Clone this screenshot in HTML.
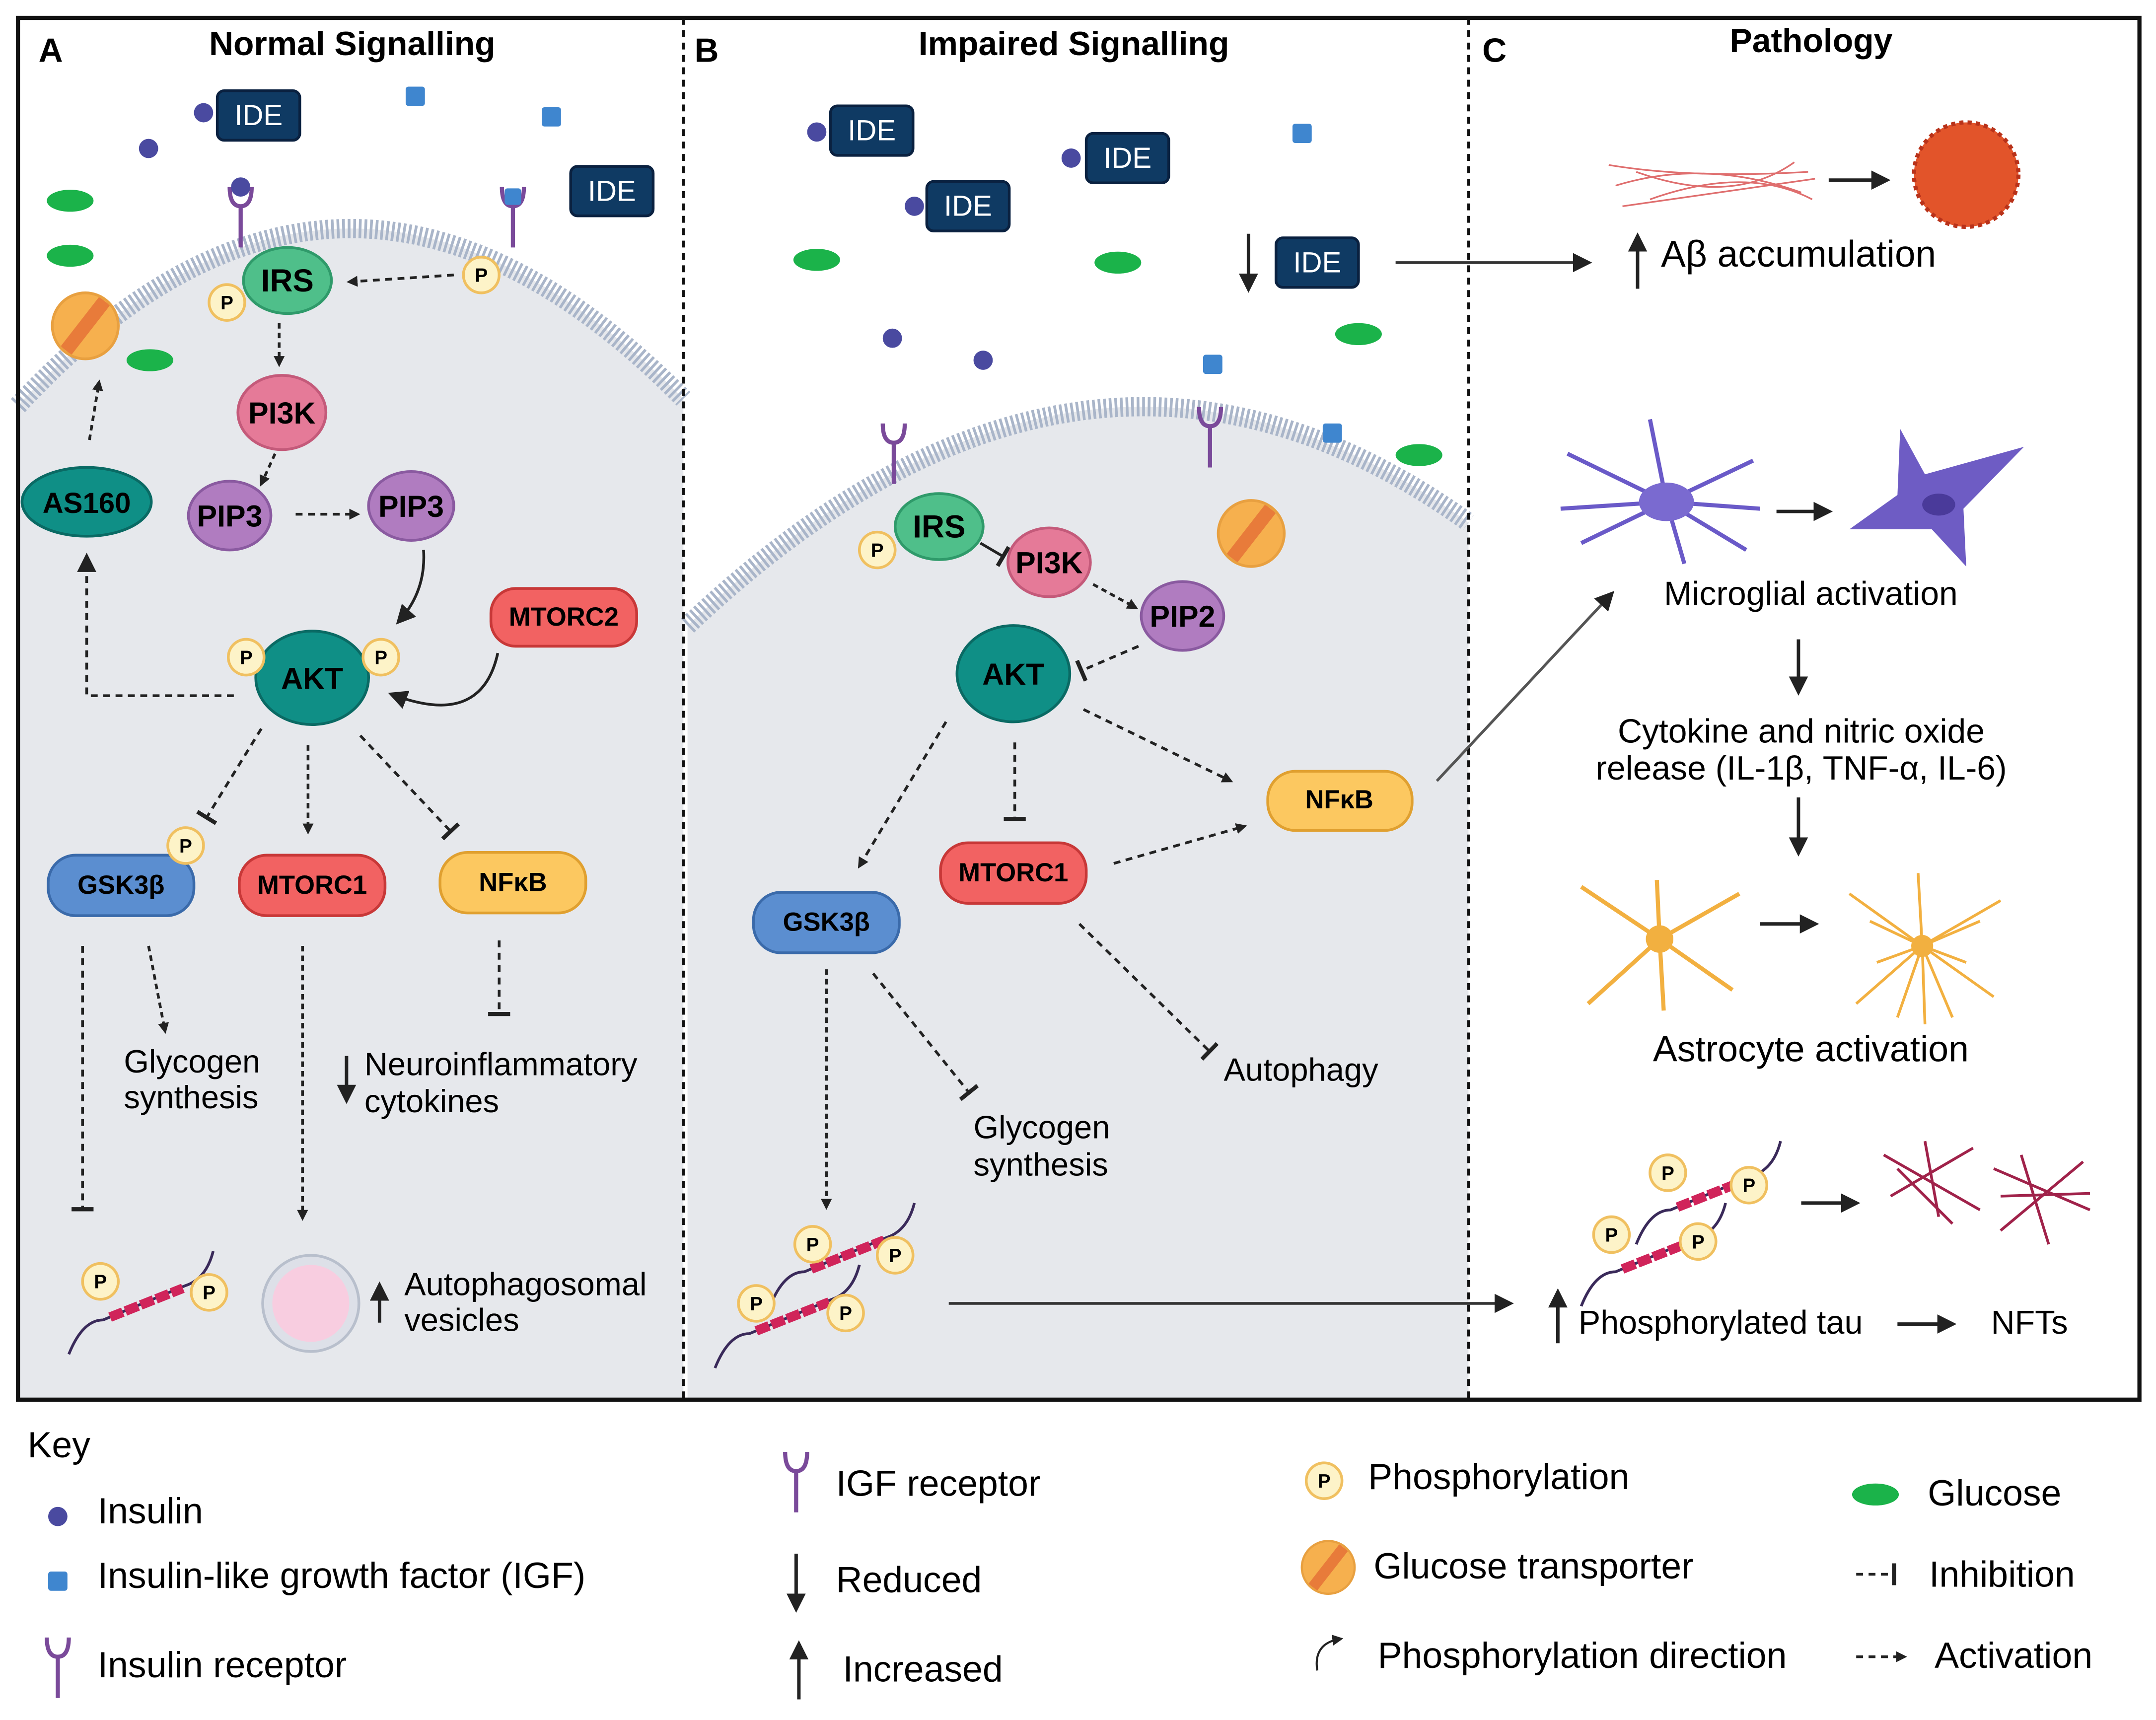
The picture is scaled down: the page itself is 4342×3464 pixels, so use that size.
<!DOCTYPE html>
<html><head><meta charset="utf-8"><style>
html,body{margin:0;padding:0;background:#fff;}
svg{display:block;}
text{font-family:"Liberation Sans",sans-serif;}
</style></head><body>
<svg width="4342" height="3464" viewBox="0 0 1568 1251" xmlns="http://www.w3.org/2000/svg">
<defs>
<marker id="ah" markerWidth="8" markerHeight="8" refX="6" refY="4" orient="auto" markerUnits="userSpaceOnUse"><path d="M0,0 L8,4 L0,8 z" fill="#222"/></marker>
<marker id="ahb" markerWidth="14" markerHeight="14" refX="11" refY="7" orient="auto" markerUnits="userSpaceOnUse"><path d="M0,0 L14,7 L0,14 z" fill="#222"/></marker>
<marker id="tb" markerWidth="4" markerHeight="16" refX="2" refY="8" orient="auto" markerUnits="userSpaceOnUse"><rect x="0" y="0" width="3" height="16" fill="#222"/></marker>
<g id="P"><circle r="13" fill="#fdf3c8" stroke="#f0c060" stroke-width="2"/><text y="5" text-anchor="middle" font-size="14" font-weight="bold">P</text></g>
<g id="IDE"><rect x="-30" y="-18" width="60" height="36" rx="5" fill="#0f3a63" stroke="#0a2140" stroke-width="2"/><text y="7" text-anchor="middle" font-size="21" fill="#fff">IDE</text></g>
<g id="glu"><ellipse rx="17" ry="8" fill="#1bb34a"/></g>
<g id="ins"><circle r="7" fill="#4a4aa0"/></g>
<g id="igf"><rect x="-7" y="-7" width="14" height="14" rx="2" fill="#3f86cf"/></g>
<g id="rec"><path d="M-8,-14 Q-8,0 0,0 Q8,0 8,-14 M0,0 L0,30" fill="none" stroke="#7a4a9a" stroke-width="3"/></g>
<g id="glut"><circle r="24" fill="#f6b04e"/><path d="M-14,18 L14,-18" stroke="#e87b3a" stroke-width="10"/><circle r="24" fill="none" stroke="#e8a040" stroke-width="2"/></g>
<g id="tau"><path d="M-55,45 Q-45,20 -30,20 L30,-5 Q45,-10 50,-30" fill="none" stroke="#3a2a5a" stroke-width="2"/><path d="M-25,18 L28,-3" stroke="#d0245a" stroke-width="7" stroke-dasharray="10,2"/></g>
</defs>
<rect width="1568" height="1251" fill="#fff"/>
<path d="M13,295 Q250,40 497,290 L497,1018 L13,1018 z" fill="#e6e8ec"/>
<path d="M13,295 Q250,40 497,290" fill="none" stroke="#a9b5c9" stroke-width="14" stroke-dasharray="2,2"/>
<path d="M500,455 Q790,180 1068,380 L1068,1018 L500,1018 z" fill="#e6e8ec"/>
<path d="M500,455 Q790,180 1068,380" fill="none" stroke="#a9b5c9" stroke-width="14" stroke-dasharray="2,2"/>
<rect x="13" y="13" width="1543" height="1005" fill="none" stroke="#111" stroke-width="3"/>
<line x1="497" y1="13" x2="497" y2="1018" stroke="#111" stroke-width="2" stroke-dasharray="5,4"/>
<line x1="1068" y1="13" x2="1068" y2="1018" stroke="#111" stroke-width="2" stroke-dasharray="5,4"/>
<g font-weight="bold" font-size="24.5">
<text x="28" y="45">A</text><text x="152" y="40">Normal Signalling</text>
<text x="505" y="45">B</text><text x="668" y="40">Impaired Signalling</text>
<text x="1078" y="45">C</text><text x="1258" y="38">Pathology</text>
</g>
<use href="#ins" x="148" y="82"/><use href="#ins" x="108" y="108"/><use href="#IDE" x="188" y="84"/>
<use href="#igf" x="302" y="70"/><use href="#igf" x="401" y="85"/><use href="#IDE" x="445" y="139"/>
<use href="#glu" x="51" y="146"/><use href="#glu" x="51" y="186"/><use href="#glu" x="109" y="262"/>
<use href="#rec" x="175" y="150"/><circle cx="175" cy="136" r="7" fill="#4a4aa0"/>
<use href="#rec" x="373" y="150"/><rect x="367" y="137" width="12" height="12" rx="2" fill="#3f86cf"/>
<use href="#glut" x="62" y="237"/>
<ellipse cx="209" cy="204" rx="32" ry="24" fill="#4fbf8a" stroke="#2f9a6a" stroke-width="2"/><text x="209" y="212" text-anchor="middle" font-size="23" font-weight="bold">IRS</text>
<use href="#P" x="165" y="220"/><use href="#P" x="350" y="200"/>
<line x1="330" y1="200" x2="254" y2="205" stroke="#222" stroke-width="2" stroke-dasharray="5,4" marker-end="url(#ah)"/>
<line x1="203" y1="235" x2="203" y2="265" stroke="#222" stroke-width="2" stroke-dasharray="4,3" marker-end="url(#ah)"/>
<ellipse cx="205" cy="300" rx="32" ry="27" fill="#e57a98" stroke="#c45a7a" stroke-width="2"/><text x="205" y="308" text-anchor="middle" font-size="22" font-weight="bold">PI3K</text>
<line x1="200" y1="330" x2="190" y2="352" stroke="#222" stroke-width="2" stroke-dasharray="4,3" marker-end="url(#ah)"/>
<ellipse cx="167" cy="375" rx="30" ry="25" fill="#b07cc0" stroke="#8a5aa0" stroke-width="2"/><text x="167" y="383" text-anchor="middle" font-size="22" font-weight="bold">PIP3</text>
<line x1="215" y1="374" x2="260" y2="374" stroke="#222" stroke-width="2" stroke-dasharray="5,4" marker-end="url(#ah)"/>
<ellipse cx="299" cy="368" rx="31" ry="25" fill="#b07cc0" stroke="#8a5aa0" stroke-width="2"/><text x="299" y="376" text-anchor="middle" font-size="22" font-weight="bold">PIP3</text>
<path d="M308,400 Q310,430 290,452" fill="none" stroke="#222" stroke-width="2" marker-end="url(#ahb)"/>
<ellipse cx="63" cy="365" rx="47" ry="25" fill="#0f8f86" stroke="#0a6a64" stroke-width="2"/><text x="63" y="373" text-anchor="middle" font-size="21" font-weight="bold">AS160</text>
<line x1="65" y1="320" x2="72" y2="278" stroke="#222" stroke-width="2" stroke-dasharray="4,3" marker-end="url(#ah)"/>
<ellipse cx="227" cy="493" rx="41" ry="34" fill="#0f8f86" stroke="#0a6a64" stroke-width="2"/><text x="227" y="501" text-anchor="middle" font-size="22" font-weight="bold">AKT</text>
<use href="#P" x="179" y="478"/><use href="#P" x="277" y="478"/>
<rect x="357" y="428" width="106" height="42" rx="18" fill="#f26262" stroke="#c83838" stroke-width="2"/><text x="410" y="455" text-anchor="middle" font-size="19" font-weight="bold">MTORC2</text>
<path d="M362,475 Q350,530 285,505" fill="none" stroke="#222" stroke-width="2" marker-end="url(#ahb)"/>
<path d="M170,506 L63,506 L63,405" fill="none" stroke="#222" stroke-width="2" stroke-dasharray="5,4" marker-end="url(#ahb)"/>
<line x1="190" y1="530" x2="150" y2="595" stroke="#222" stroke-width="2" stroke-dasharray="5,4" marker-end="url(#tb)"/>
<line x1="224" y1="542" x2="224" y2="605" stroke="#222" stroke-width="2" stroke-dasharray="4,3" marker-end="url(#ah)"/>
<line x1="262" y1="535" x2="328" y2="605" stroke="#222" stroke-width="2" stroke-dasharray="5,4" marker-end="url(#tb)"/>
<rect x="35" y="622" width="106" height="44" rx="20" fill="#5b8ed0" stroke="#3a6aaa" stroke-width="2"/><text x="88" y="650" text-anchor="middle" font-size="19" font-weight="bold">GSK3β</text>
<use href="#P" x="135" y="615"/>
<rect x="174" y="622" width="106" height="44" rx="20" fill="#f26262" stroke="#c83838" stroke-width="2"/><text x="227" y="650" text-anchor="middle" font-size="19" font-weight="bold">MTORC1</text>
<rect x="320" y="620" width="106" height="44" rx="20" fill="#fcc860" stroke="#e0a030" stroke-width="2"/><text x="373" y="648" text-anchor="middle" font-size="19" font-weight="bold">NFκB</text>
<line x1="60" y1="688" x2="60" y2="880" stroke="#222" stroke-width="2" stroke-dasharray="5,4" marker-end="url(#tb)"/>
<line x1="108" y1="688" x2="120" y2="750" stroke="#222" stroke-width="2" stroke-dasharray="4,3" marker-end="url(#ah)"/>
<line x1="220" y1="688" x2="220" y2="886" stroke="#222" stroke-width="2" stroke-dasharray="4,3" marker-end="url(#ah)"/>
<line x1="363" y1="684" x2="363" y2="738" stroke="#222" stroke-width="2" stroke-dasharray="5,4" marker-end="url(#tb)"/>
<g font-size="23.5"><text x="90" y="780">Glycogen</text><text x="90" y="806">synthesis</text>
<text x="265" y="782">Neuroinflammatory</text><text x="265" y="809">cytokines</text>
<text x="294" y="942">Autophagosomal</text><text x="294" y="968">vesicles</text></g>
<path d="M252,768 L252,800" stroke="#222" stroke-width="2.5" marker-end="url(#ahb)"/>
<path d="M276,962 L276,935" stroke="#222" stroke-width="2.5" marker-end="url(#ahb)"/>
<circle cx="226" cy="948" r="35" fill="#dde0e8" stroke="#b8bfcc" stroke-width="2"/><circle cx="226" cy="948" r="28" fill="#f8cde0"/>
<use href="#tau" x="105" y="940"/><use href="#P" x="73" y="932"/><use href="#P" x="152" y="940"/>
<use href="#ins" x="594" y="96"/><use href="#IDE" x="634" y="95"/>
<use href="#ins" x="779" y="115"/><use href="#IDE" x="820" y="115"/>
<use href="#ins" x="665" y="150"/><use href="#IDE" x="704" y="150"/>
<use href="#igf" x="947" y="97"/><use href="#IDE" x="958" y="191"/>
<path d="M908,170 L908,210" stroke="#222" stroke-width="2.5" marker-end="url(#ahb)"/>
<use href="#glu" x="594" y="189"/><use href="#glu" x="813" y="191"/><use href="#glu" x="988" y="243"/><use href="#glu" x="1032" y="331"/>
<use href="#ins" x="649" y="246"/><use href="#ins" x="715" y="262"/><use href="#igf" x="882" y="265"/><use href="#igf" x="969" y="315"/>
<use href="#rec" x="650" y="322"/><use href="#rec" x="880" y="310"/>
<use href="#glut" x="910" y="388"/>
<ellipse cx="683" cy="383" rx="32" ry="24" fill="#4fbf8a" stroke="#2f9a6a" stroke-width="2"/><text x="683" y="391" text-anchor="middle" font-size="23" font-weight="bold">IRS</text>
<use href="#P" x="638" y="400"/>
<line x1="713" y1="395" x2="730" y2="405" stroke="#222" stroke-width="2" marker-end="url(#tb)"/>
<ellipse cx="763" cy="409" rx="30" ry="25" fill="#e57a98" stroke="#c45a7a" stroke-width="2"/><text x="763" y="417" text-anchor="middle" font-size="22" font-weight="bold">PI3K</text>
<line x1="795" y1="425" x2="826" y2="442" stroke="#222" stroke-width="2" stroke-dasharray="4,3" marker-end="url(#ah)"/>
<ellipse cx="860" cy="448" rx="30" ry="25" fill="#b07cc0" stroke="#8a5aa0" stroke-width="2"/><text x="860" y="456" text-anchor="middle" font-size="22" font-weight="bold">PIP2</text>
<line x1="828" y1="470" x2="786" y2="488" stroke="#222" stroke-width="2" stroke-dasharray="5,4" marker-end="url(#tb)"/>
<ellipse cx="737" cy="490" rx="41" ry="35" fill="#0f8f86" stroke="#0a6a64" stroke-width="2"/><text x="737" y="498" text-anchor="middle" font-size="22" font-weight="bold">AKT</text>
<line x1="788" y1="516" x2="895" y2="568" stroke="#222" stroke-width="2" stroke-dasharray="5,4" marker-end="url(#ah)"/>
<line x1="738" y1="540" x2="738" y2="596" stroke="#222" stroke-width="2" stroke-dasharray="5,4" marker-end="url(#tb)"/>
<line x1="688" y1="525" x2="625" y2="630" stroke="#222" stroke-width="2" stroke-dasharray="5,4" marker-end="url(#ah)"/>
<rect x="922" y="561" width="105" height="43" rx="20" fill="#fcc860" stroke="#e0a030" stroke-width="2"/><text x="974" y="588" text-anchor="middle" font-size="19" font-weight="bold">NFκB</text>
<rect x="684" y="613" width="106" height="44" rx="20" fill="#f26262" stroke="#c83838" stroke-width="2"/><text x="737" y="641" text-anchor="middle" font-size="19" font-weight="bold">MTORC1</text>
<line x1="810" y1="628" x2="905" y2="601" stroke="#222" stroke-width="2" stroke-dasharray="5,4" marker-end="url(#ah)"/>
<rect x="548" y="649" width="106" height="44" rx="20" fill="#5b8ed0" stroke="#3a6aaa" stroke-width="2"/><text x="601" y="677" text-anchor="middle" font-size="19" font-weight="bold">GSK3β</text>
<line x1="785" y1="672" x2="880" y2="765" stroke="#222" stroke-width="2" stroke-dasharray="5,4" marker-end="url(#tb)"/>
<line x1="635" y1="708" x2="705" y2="795" stroke="#222" stroke-width="2" stroke-dasharray="5,4" marker-end="url(#tb)"/>
<line x1="601" y1="705" x2="601" y2="878" stroke="#222" stroke-width="2" stroke-dasharray="4,3" marker-end="url(#ah)"/>
<g font-size="23.5"><text x="890" y="786">Autophagy</text><text x="708" y="828">Glycogen</text><text x="708" y="855">synthesis</text></g>
<use href="#tau" x="615" y="905"/><use href="#P" x="591" y="905"/><use href="#P" x="651" y="913"/>
<use href="#tau" x="575" y="950"/><use href="#P" x="550" y="948"/><use href="#P" x="615" y="955"/>
<line x1="690" y1="948" x2="1098" y2="948" stroke="#333" stroke-width="2" marker-end="url(#ahb)"/>
<line x1="1015" y1="191" x2="1155" y2="191" stroke="#333" stroke-width="2" marker-end="url(#ahb)"/>
<line x1="1045" y1="568" x2="1172" y2="432" stroke="#555" stroke-width="2" marker-end="url(#ahb)"/>
<g stroke="#d84a4a" stroke-width="1.2" fill="none" opacity="0.8">
<path d="M1170,120 Q1230,130 1315,125"/><path d="M1175,135 Q1240,115 1310,140"/><path d="M1180,150 Q1250,140 1320,130"/><path d="M1190,125 Q1260,150 1305,118"/><path d="M1200,145 Q1270,120 1318,145"/>
</g>
<line x1="1330" y1="131" x2="1372" y2="131" stroke="#222" stroke-width="2.5" marker-end="url(#ahb)"/>
<circle cx="1430" cy="127" r="38" fill="#e2542a"/><circle cx="1430" cy="127" r="38" fill="none" stroke="#b8321a" stroke-width="3" stroke-dasharray="3,3"/>
<path d="M1191,210 L1191,172" stroke="#222" stroke-width="2.5" marker-end="url(#ahb)"/>
<text x="1208" y="194" font-size="27">Aβ accumulation</text>
<g stroke="#6a5ac8" stroke-width="3" fill="none">
<path d="M1212,365 L1140,330 M1212,365 L1150,395 M1212,365 L1275,335 M1212,365 L1270,400 M1212,365 L1200,305 M1212,365 L1225,410 M1212,365 L1135,370 M1212,365 L1280,370"/></g>
<ellipse cx="1212" cy="365" rx="20" ry="14" fill="#7a6ad0"/>
<line x1="1292" y1="372" x2="1330" y2="372" stroke="#222" stroke-width="2.5" marker-end="url(#ahb)"/>
<path d="M1345,385 L1380,360 L1382,312 L1400,345 L1472,325 L1428,370 L1430,412 L1405,385 Z" fill="#6e5cc4"/><ellipse cx="1410" cy="367" rx="12" ry="8" fill="#4a3a9a"/>
<text x="1317" y="440" text-anchor="middle" font-size="24.5">Microglial activation</text>
<path d="M1308,465 L1308,503" stroke="#222" stroke-width="2.5" marker-end="url(#ahb)"/>
<text x="1310" y="540" text-anchor="middle" font-size="24.5">Cytokine and nitric oxide</text>
<text x="1310" y="567" text-anchor="middle" font-size="24.5">release (IL-1β, TNF-α, IL-6)</text>
<path d="M1308,580 L1308,620" stroke="#222" stroke-width="2.5" marker-end="url(#ahb)"/>
<g stroke="#f2b040" stroke-width="3" fill="none">
<path d="M1207,683 L1150,645 M1207,683 L1155,730 M1207,683 L1265,650 M1207,683 L1260,720 M1207,683 L1210,735 M1207,683 L1205,640"/></g>
<circle cx="1207" cy="683" r="10" fill="#f2b040"/>
<line x1="1280" y1="672" x2="1320" y2="672" stroke="#222" stroke-width="2.5" marker-end="url(#ahb)"/>
<g stroke="#f2b040" stroke-width="2" fill="none">
<path d="M1398,688 L1345,650 M1398,688 L1350,730 M1398,688 L1455,655 M1398,688 L1450,725 M1398,688 L1400,745 M1398,688 L1395,635 M1398,688 L1365,700 M1398,688 L1430,700 M1398,688 L1380,740 M1398,688 L1420,740 M1398,688 L1360,670 M1398,688 L1440,670"/></g>
<circle cx="1398" cy="688" r="8" fill="#f2b040"/>
<text x="1317" y="772" text-anchor="middle" font-size="26.5">Astrocyte activation</text>
<use href="#tau" x="1245" y="860"/><use href="#P" x="1213" y="853"/><use href="#P" x="1272" y="862"/>
<use href="#tau" x="1205" y="905"/><use href="#P" x="1172" y="898"/><use href="#P" x="1235" y="903"/>
<line x1="1310" y1="875" x2="1350" y2="875" stroke="#222" stroke-width="2.5" marker-end="url(#ahb)"/>
<g stroke="#a0224a" stroke-width="2" fill="none"><path d="M1370,840 L1440,880 M1375,870 L1435,835 M1380,850 L1420,890 M1400,830 L1410,885 M1450,850 L1520,880 M1455,895 L1515,845 M1470,840 L1490,905 M1455,870 L1520,868"/></g>
<path d="M1133,977 L1133,940" stroke="#222" stroke-width="2.5" marker-end="url(#ahb)"/>
<text x="1148" y="970" font-size="24">Phosphorylated tau</text>
<line x1="1380" y1="963" x2="1420" y2="963" stroke="#222" stroke-width="2.5" marker-end="url(#ahb)"/>
<text x="1448" y="970" font-size="24">NFTs</text>
<g font-size="26.5">
<text x="20" y="1060">Key</text>
<use href="#ins" x="42" y="1103"/><text x="71" y="1108">Insulin</text>
<use href="#igf" x="42" y="1150"/><text x="71" y="1155">Insulin-like growth factor (IGF)</text>
<use href="#rec" x="42" y="1205"/><text x="71" y="1220">Insulin receptor</text>
<use href="#rec" x="579" y="1070"/><text x="608" y="1088">IGF receptor</text>
<path d="M579,1130 L579,1170" stroke="#222" stroke-width="2.5" marker-end="url(#ahb)"/><text x="608" y="1158">Reduced</text>
<path d="M581,1236 L581,1196" stroke="#222" stroke-width="2.5" marker-end="url(#ahb)"/><text x="613" y="1223">Increased</text>
<use href="#P" x="963" y="1077"/><text x="995" y="1083">Phosphorylation</text>
<use href="#glut" x="966" y="1140" transform="translate(966,1140) scale(0.8) translate(-966,-1140)"/><text x="999" y="1148">Glucose transporter</text>
<path d="M958,1215 Q955,1195 975,1192" fill="none" stroke="#222" stroke-width="1.5" marker-end="url(#ah)"/><text x="1002" y="1213">Phosphorylation direction</text>
<use href="#glu" x="1364" y="1087"/><text x="1402" y="1095">Glucose</text>
<line x1="1350" y1="1145" x2="1378" y2="1145" stroke="#222" stroke-width="2" stroke-dasharray="5,4" marker-end="url(#tb)"/><text x="1403" y="1154">Inhibition</text>
<line x1="1350" y1="1205" x2="1385" y2="1205" stroke="#222" stroke-width="2" stroke-dasharray="5,4" marker-end="url(#ah)"/><text x="1407" y="1213">Activation</text>
</g>
</svg>
</body></html>
